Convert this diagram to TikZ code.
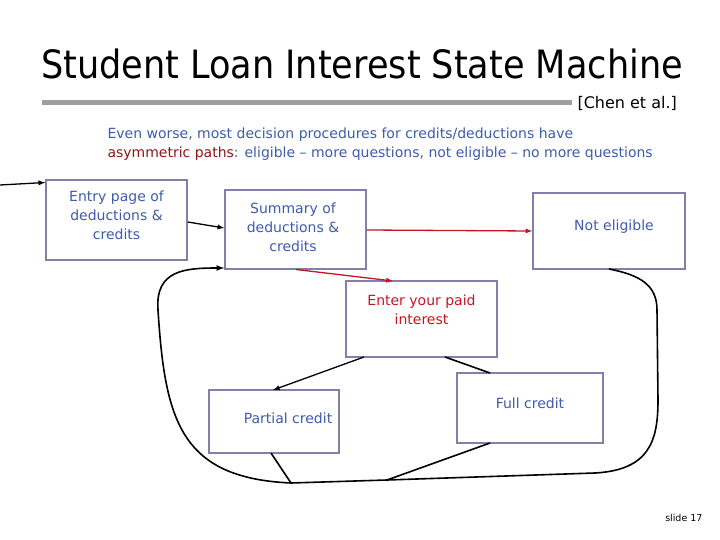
\documentclass[tikz,border=0pt]{standalone}
\usepackage{fontspec}
\setmainfont{DejaVu Sans}
\newfontfamily\titlefont{DejaVu Sans Condensed}
\usetikzlibrary{calc,positioning,backgrounds}
\definecolor{txtb}{RGB}{62,92,172}
\definecolor{frame}{RGB}{128,128,168}
\definecolor{hot}{RGB}{196,22,34}
\definecolor{dred}{RGB}{140,22,22}
\tikzset{
  state/.style = {draw=frame,line width=1.5pt,fill=white,text=txtb,font=\fontsize{14}{17}\selectfont,align=center,inner sep=0pt},
  lbl/.style = {font=\fontsize{14}{19}\selectfont,align=center},
  arr/.style = {->,>=latex,black,line width=1.3pt},
  arrh/.style = {->,>=latex,hot,line width=1.3pt},
  loop/.style = {black,line width=1.6pt}
}
\begin{document}
\begin{tikzpicture}[x=1pt,y=-1pt,background rectangle/.style={fill=white}, show background rectangle]
\useasboundingbox (0,0) rectangle (720,540);

\node[font=\titlefont\fontsize{39}{44}\selectfont,anchor=base] (title) at (362,79) {Student Loan Interest State Machine};
\draw[gray!75,line width=5pt] (42,103) -- (572,103);
\node[anchor=west,font=\fontsize{16}{18}\selectfont] (cite) at (574,103) {[Chen et al.]};
\node[anchor=north west,align=left,text=txtb,font=\fontsize{14}{19.5}\selectfont] (note) at (104,124)
  {Even worse, most decision procedures for credits/deductions have\\
   \textcolor{dred}{asymmetric paths}: eligible -- more questions, not eligible -- no more questions};

\node[state,minimum width=141,minimum height=80] (entry) at (116.5,220) {};
\node[lbl,text=txtb,anchor=north] at (116.5,187) {Entry page of\\deductions \&\\credits};
\node[state,minimum width=141,minimum height=79] (summary) at (295.5,229.5) {};
\node[lbl,text=txtb] at (293,227) {Summary of\\deductions \&\\credits};
\node[state,minimum width=152,minimum height=76] (noelig) at (609,231) {};
\node[lbl,text=txtb] at (614,227) {Not eligible};
\node[state,minimum width=151,minimum height=76] (enter) at (421.5,319) {};
\node[lbl,text=hot,anchor=north] at (421.5,291) {Enter your paid\\interest};
\node[state,minimum width=130,minimum height=63] (partial) at (274,421.5) {};
\node[lbl,text=txtb] at (288,418) {Partial credit};
\node[state,minimum width=146,minimum height=70] (full) at (530,408) {};
\node[lbl,text=txtb] at (530,403) {Full credit};
\node[font=\fontsize{9.5}{11}\selectfont,anchor=east] (slide) at (706,518) {slide 17};

\coordinate (start) at (0,185);
\coordinate (join) at (291,483);
\coordinate (mid) at (387,480);

\draw[arr] (start) -- (entry.north west |- 0,182.5);
\draw[arr] (entry.east |- 0,222) -- (summary.west |- 0,228);
\draw[arrh] (summary.east |- 0,230) -- (noelig.west |- 0,231);
\draw[arrh] (296,269.5) -- (393,281);
\draw[arr] (364,357) -- (273,390);
\draw[loop] (445,357) -- (490,373);
\draw[loop] (271,453) -- (join);
\draw[loop] (490,443) -- (mid);
\draw[loop,->,>=latex] (join) .. controls (180,478) and (165,420) .. (158,310)
  .. controls (155,270) and (185,268) .. (summary.west |- 0,268);
\draw[loop] (join) -- (mid) -- (595,473) .. controls (650,470) and (658,440) .. (658,400)
  -- (657,310) .. controls (657,285) and (640,275) .. (noelig.south |- 0,269);
\end{tikzpicture}
\end{document}
